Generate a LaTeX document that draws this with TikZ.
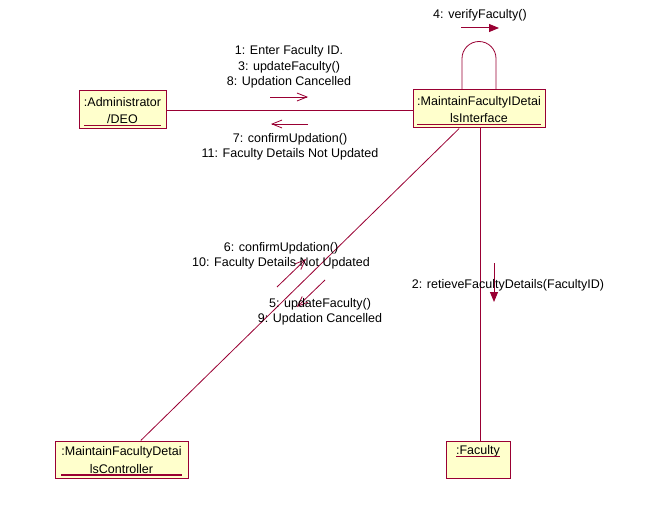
\documentclass[tikz,border=0pt]{standalone}
\usepackage{fontspec}
\setmainfont{Liberation Sans}
\usepackage{colortbl}
\usetikzlibrary{arrows.meta}
\definecolor{umlred}{RGB}{153,0,51}
\definecolor{umlfill}{RGB}{255,255,204}
\newcommand{\objname}[1]{{\arrayrulecolor{umlred}\setlength{\arrayrulewidth}{1.2pt}%
  \renewcommand{\arraystretch}{1.13}\begin{tabular}{@{}c@{}}#1\\[-4pt]\hline\end{tabular}}}

\begin{document}
\begin{tikzpicture}[x=1pt, y=-1pt, font=\fontsize{12.5}{15.5}\selectfont,
  object/.style={draw=umlred, fill=umlfill, line width=1pt, inner sep=0pt, minimum height=38pt},
  link/.style={draw=umlred, line width=0.8pt},
  msg/.style={draw=umlred, line width=0.8pt, -{Straight Barb[length=10pt, width=8pt]}},
  call/.style={draw=umlred, line width=1pt, -{Triangle[length=10pt, width=8pt]}},
  lbl/.style={align=center, inner sep=0pt}]
  \useasboundingbox (0,0) rectangle (646,511);

  \node[object, minimum width=87pt] (admin) at (122.5,110) {\objname{:Administrator\\/DEO}};
  \node[object, minimum width=132pt] (iface) at (479,109) {\objname{:MaintainFacultyIDetai\\lsInterface}};
  \node[object, minimum width=133pt, minimum height=37pt] (ctrl) at (121.5,459.5) {\objname{:MaintainFacultyDetai\\lsController}};
  \node[object, minimum width=64pt, minimum height=37pt, text height=12pt, text depth=25pt] (fac) at (478,459.5) {\objname{:Faculty}};

  \draw[link] (admin.east) -- (admin.east -| iface.west);
  \draw[link] (iface) -- (ctrl);
  \draw[link] ([xshift=1pt]iface.south) -- ([xshift=1pt]iface.south |- fac.north);
  \draw[link] ([xshift=-17pt]iface.north) -- ++(0,-31) arc[start angle=180, end angle=0, radius=17pt] -- ([xshift=17pt]iface.north);

  \coordinate (m1a) at (270,97);  \coordinate (m1b) at (308,97);
  \coordinate (m7a) at (308,124); \coordinate (m7b) at (271,124);
  \coordinate (m6a) at (277,287); \coordinate (m6b) at (306,259);
  \coordinate (m5a) at (325,280); \coordinate (m5b) at (297,307);
  \coordinate (m4a) at (461,28);  \coordinate (m4b) at (499,28);
  \coordinate (m2a) at (494,263); \coordinate (m2b) at (494,302);
  \draw[msg] (m1a) -- (m1b);
  \draw[msg] (m7a) -- (m7b);
  \draw[msg] (m6a) -- (m6b);
  \draw[msg] (m5a) -- (m5b);
  \draw[call] (m4a) -- (m4b);
  \draw[call] (m2a) -- (m2b);

  \node[lbl] (l1) at (289,67) {1: Enter Faculty ID.\\3: updateFaculty()\\8: Updation Cancelled};
  \node[lbl] (l7) at (290,147) {7: confirmUpdation()\\11: Faculty Details Not Updated};
  \node[lbl] (l6) at (281,256) {6: confirmUpdation()\\10: Faculty Details Not Updated};
  \node[lbl] (l5) at (320,312) {5: updateFaculty()\\9: Updation Cancelled};
  \node[lbl] (l4) at (480,15) {4: verifyFaculty()};
  \node[lbl] (l2) at (508,285) {2: retieveFacultyDetails(FacultyID)};
\end{tikzpicture}
\end{document}
